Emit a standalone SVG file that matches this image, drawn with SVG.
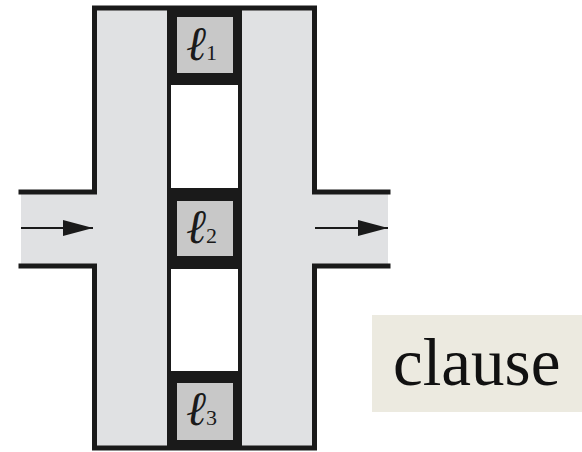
<svg xmlns="http://www.w3.org/2000/svg" width="582" height="452" viewBox="0 0 582 452">
<style>
.frame{fill:none;stroke:#1a1a1a;stroke-width:5;stroke-linejoin:miter;stroke-linecap:square}
.blk{fill:#1a1a1a}
.lit{fill:#c8c8c8}
.hole{fill:#ffffff;stroke:#1a1a1a;stroke-width:4}
.lbl{font-family:"Liberation Serif",serif;font-style:italic;font-size:48px;fill:#1a1a1a}
.sub{font-family:"Liberation Serif",serif;font-style:normal;font-size:22px;fill:#1a1a1a}
.arr{stroke:#1a1a1a;stroke-width:2}
</style>
<defs>
<marker id="ah" markerWidth="30" markerHeight="16" refX="30" refY="8" orient="auto" markerUnits="userSpaceOnUse">
<path d="M0,0 L30,8 L0,16 Z" fill="#1a1a1a"/>
</marker>
</defs>
<g id="gadget">
<path d="M21,192 H94.5 V8 H314.5 V192 H388 V266 H314.5 V448 H94.5 V266 H21 Z" fill="#e0e1e3"/>
<path class="frame" d="M21,192 H94.5 V8 H314.5 V192 H388"/>
<path class="frame" d="M21,266 H94.5 V448 H314.5 V266 H388"/>
</g>
<g id="hole1"><rect class="hole" x="169" y="83" width="71" height="107"/></g>
<g id="hole2"><rect class="hole" x="169" y="267" width="71" height="106"/></g>
<g id="l1">
<rect class="blk" x="167" y="8" width="75" height="75"/>
<rect class="lit" x="177" y="17" width="56" height="56"/>
<text x="186" y="60"><tspan class="lbl">ℓ</tspan><tspan class="sub">1</tspan></text>
</g>
<g id="l2">
<rect class="blk" x="167" y="190" width="75" height="77"/>
<rect class="lit" x="177" y="201" width="56" height="55"/>
<text x="186" y="243"><tspan class="lbl">ℓ</tspan><tspan class="sub">2</tspan></text>
</g>
<g id="l3">
<rect class="blk" x="167" y="373" width="75" height="77"/>
<rect class="lit" x="177" y="383" width="56" height="57"/>
<text x="186" y="425"><tspan class="lbl">ℓ</tspan><tspan class="sub">3</tspan></text>
</g>
<g id="connectors">
<line class="arr" x1="21" y1="228" x2="93" y2="228" marker-end="url(#ah)"/>
<line class="arr" x1="315" y1="228" x2="388" y2="228" marker-end="url(#ah)"/>
</g>
<g id="clause">
<rect x="372" y="315" width="210" height="97" fill="#ecEAE0"/>
<text x="393" y="385" font-family="Liberation Serif, serif" font-size="67" fill="#111">clause</text>
</g>
</svg>
